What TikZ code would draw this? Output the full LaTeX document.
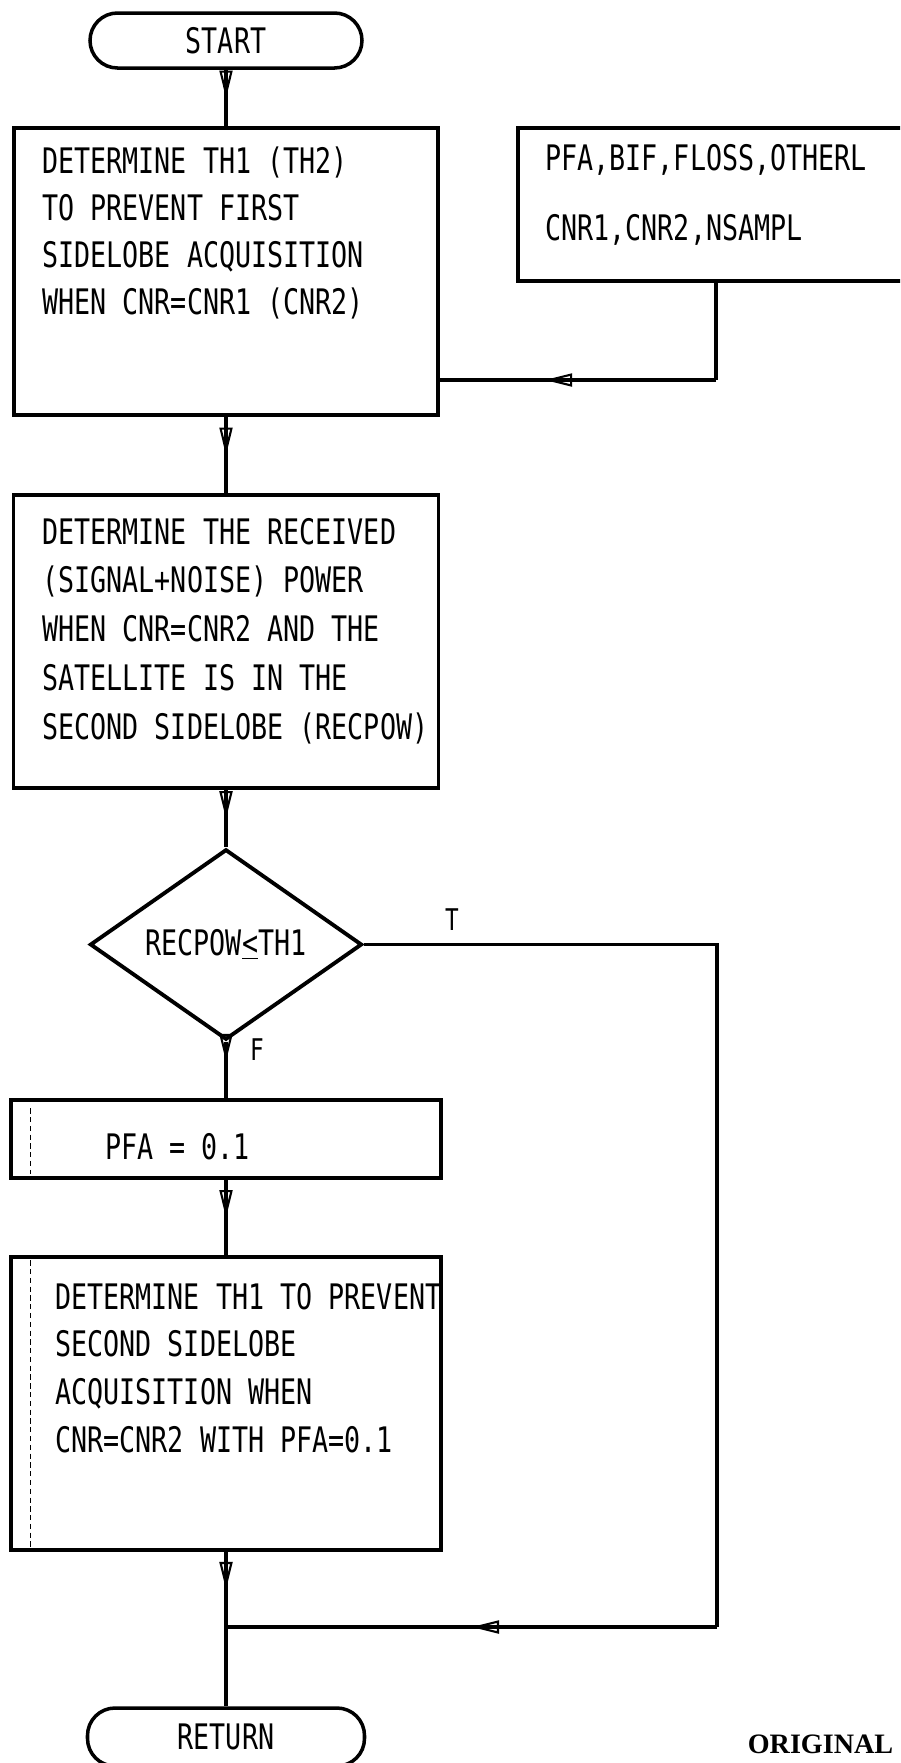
\documentclass[tikz,border=0pt]{standalone}
\usepackage{fontspec}
\newfontfamily\flowfont[FakeStretch=0.76]{DejaVu Sans Mono}
\newfontfamily\stampfont{Liberation Serif}
\usetikzlibrary{positioning, calc, arrows.meta, shapes.geometric, decorations.markings}

\begin{document}
\begin{tikzpicture}[
        terminal/.style={% For START and RETURN
            rectangle,
            rounded corners=5.5mm,
            draw,
            line width=2pt,
            minimum width=5.44cm,
            minimum height=1.1cm,
            font=\flowfont\fontsize{20}{24}\selectfont,
            },
        process/.style={% For the boxes
            rectangle,
            draw,
            line width=2pt,
            },
        decision/.style={% For the test
            diamond,
            draw,
            line width=2.2pt,
            inner sep=0pt,
            minimum width=5.44cm,
            minimum height=3.1cm,
            font=\flowfont\fontsize{20}{24}\selectfont,
            },
        boxtext/.style={% Text written inside a box, placed by its last line
            anchor=base west,
            inner sep=0pt,
            align=left,
            font=\flowfont\fontsize{20}{#1}\selectfont,
            },
        boxtext/.default=26.8,
        flowlabel/.style={% T and F
            inner sep=0pt,
            font=\flowfont\fontsize{17}{20}\selectfont,
            },
        flowline/.style={% Connectors
            line width=2pt,
            },
        midarrow/.style={% Open head halfway along a connector
            flowline,
            postaction={decorate},
            decoration={markings, mark=at position #1 with
            {\arrow{Triangle[open,length=5.5mm,width=2.6mm,line width=1.2pt]}}},
            },
        midarrow/.default=0.5,
        rule/.style={% Faint inner rule of the lower boxes
            line width=0.6pt,
            densely dashed,
            },
        ]
        \useasboundingbox (0,0) rectangle (18,-35.26);
        \clip (0,0) rectangle (18,-35.26);
        % Draw the boxes
        \node[terminal] (start) at (4.52,-0.81) {START};
        \node[process, minimum width=8.48cm, minimum height=5.74cm] (thres) at (4.52,-5.43) {};
        \node[process, minimum width=7.74cm, minimum height=3.06cm] (inputs) at (14.23,-4.09) {};
        \node[process, minimum width=8.5cm, minimum height=5.86cm] (recpow) at (4.52,-12.83) {};
        \node[decision] (test) at (4.52,-18.89) {RECPOW\underline{<}TH1};
        \node[process, minimum width=8.6cm, minimum height=1.56cm] (pfa) at (4.52,-22.78) {};
        \node[process, minimum width=8.6cm, minimum height=5.86cm] (second) at (4.52,-28.07) {};
        \node[terminal, minimum width=5.54cm, minimum height=1.16cm] (return) at (4.52,-34.74) {RETURN};
        % Texts of the boxes
        \node[boxtext] (threstext) at (0.84,-6.29) {DETERMINE TH1 (TH2)\\TO PREVENT FIRST\\SIDELOBE ACQUISITION\\WHEN CNR=CNR1 (CNR2)};
        \node[boxtext=39.7] (inputstext) at (10.9,-4.81) {PFA,BIF,FLOSS,OTHERL\\CNR1,CNR2,NSAMPL};
        \node[boxtext=27.8] (recpowtext) at (0.84,-14.79) {DETERMINE THE RECEIVED\\(SIGNAL+NOISE) POWER\\WHEN CNR=CNR2 AND THE\\SATELLITE IS IN THE\\SECOND SIDELOBE (RECPOW)};
        \node[boxtext] (pfatext) at (2.1,-23.19) {PFA = 0.1};
        \node[boxtext=27.2] (secondtext) at (1.1,-29.05) {DETERMINE TH1 TO PREVENT\\SECOND SIDELOBE\\ACQUISITION WHEN\\CNR=CNR2 WITH PFA=0.1};
        \draw[rule] ($(pfa.north west)+(0.42,-0.2)$) -- ($(pfa.south west)+(0.42,0.12)$);
        \draw[rule] ($(second.north west)+(0.42,-0.1)$) -- ($(second.south west)+(0.42,0.1)$);
        % Branch labels
        \node[flowlabel] (tlabel) at (9.04,-18.4) {T};
        \node[flowlabel] (flabel) at (5.14,-21.0) {F};
        % Connect all
        \coordinate (inpdrop) at (14.32,-7.6);
        \coordinate (tcorner) at (14.34,-32.54);
        \coordinate (merge) at (4.52,-32.54);
        \draw[midarrow] (start) -- (thres);
        \draw[flowline] (inputs.south -| inpdrop) -- (inpdrop);
        \draw[midarrow=0.62] (inpdrop) -- (inpdrop -| thres.east);
        \draw[midarrow] (thres) -- (recpow);
        \draw[midarrow] (recpow) -- (test);
        \draw[midarrow=0.35] (test) -- (pfa);
        \draw[midarrow] (pfa) -- (second);
        \draw[flowline] (test.east) -| (tcorner);
        \draw[midarrow] (tcorner) -- (merge);
        \draw[midarrow] (second) -- (merge);
        \draw[flowline] (merge) -- (return);
        % Stamp at the foot of the page
        \node[anchor=north west, inner sep=0pt, font=\stampfont\bfseries\fontsize{16}{18}\selectfont] (stamp) at (14.95,-34.7) {ORIGINAL};
\end{tikzpicture}
\end{document}
